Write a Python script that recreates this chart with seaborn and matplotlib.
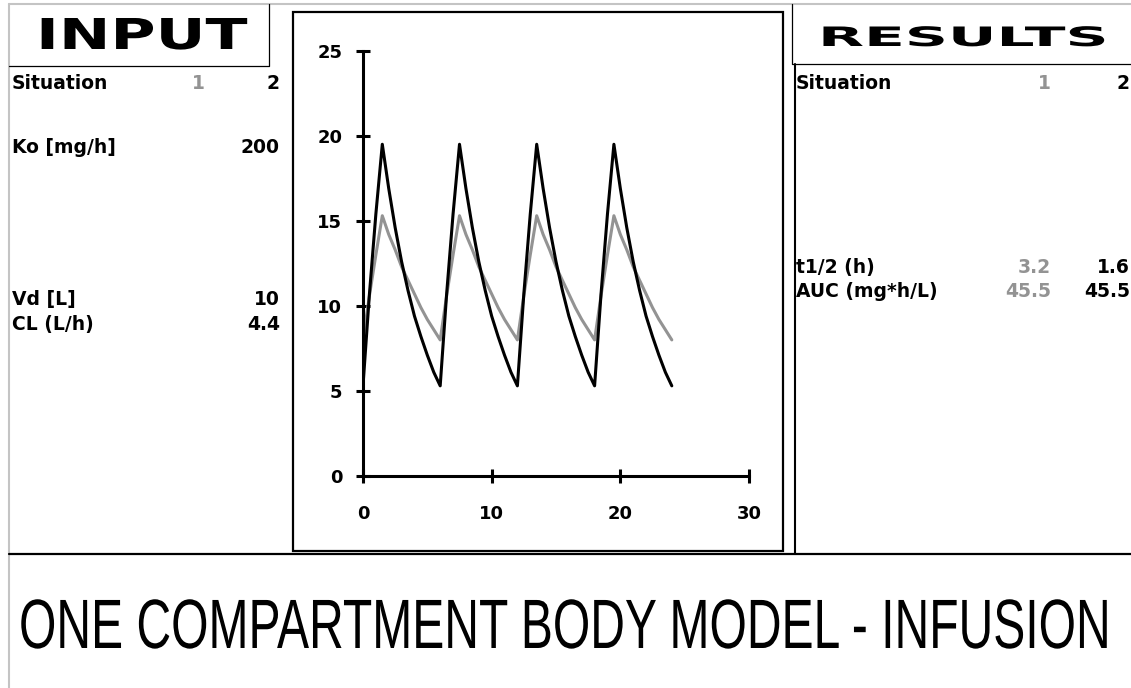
import matplotlib
matplotlib.use('Agg')
import matplotlib.pyplot as plt
import matplotlib.patches as mpatches
from matplotlib.patheffects import AbstractPathEffect
from matplotlib.transforms import Affine2D
import seaborn as sns
import pandas as pd

# --- data (concentration in mg/L vs time in h) ---
hours = [0, 0.5, 1, 1.5, 2, 2.5, 3, 3.5, 4, 4.5, 5, 5.5,
         6, 6.5, 7, 7.5, 8, 8.5, 9, 9.5, 10, 10.5, 11, 11.5,
         12, 12.5, 13, 13.5, 14, 14.5, 15, 15.5, 16, 16.5, 17, 17.5,
         18, 18.5, 19, 19.5, 20, 20.5, 21, 21.5, 22, 22.5, 23, 23.5,
         24]

# situation 1 (grey)
conc_sit1 = [8.0, 10.6, 13.0, 15.3, 14.2, 13.3, 12.3, 11.5, 10.7, 9.9, 9.2, 8.6,
             8.0, 10.6, 13.0, 15.3, 14.2, 13.3, 12.3, 11.5, 10.7, 9.9, 9.2, 8.6,
             8.0, 10.6, 13.0, 15.3, 14.2, 13.3, 12.3, 11.5, 10.7, 9.9, 9.2, 8.6,
             8.0, 10.6, 13.0, 15.3, 14.2, 13.3, 12.3, 11.5, 10.7, 9.9, 9.2, 8.6,
             8.0]

# situation 2 (black)
conc_sit2 = [5.3, 10.7, 15.4, 19.5, 16.9, 14.6, 12.6, 10.9, 9.4, 8.2, 7.1, 6.1,
             5.3, 10.7, 15.4, 19.5, 16.9, 14.6, 12.6, 10.9, 9.4, 8.2, 7.1, 6.1,
             5.3, 10.7, 15.4, 19.5, 16.9, 14.6, 12.6, 10.9, 9.4, 8.2, 7.1, 6.1,
             5.3, 10.7, 15.4, 19.5, 16.9, 14.6, 12.6, 10.9, 9.4, 8.2, 7.1, 6.1,
             5.3]

x_ticks = [0, 10, 20, 30]
y_ticks = [0, 5, 10, 15, 20, 25]

input_labels = ['Situation', 'Ko [mg/h]', 'Vd [L]', 'CL (L/h)']
input_sit1 = ['1', '', '', '']
input_sit2 = ['2', '200', '10', '4.4']

result_labels = ['Situation', 't1/2 (h)', 'AUC (mg*h/L)']
result_sit1 = ['1', '3.2', '45.5']
result_sit2 = ['2', '1.6', '45.5']

title = 'ONE COMPARTMENT BODY MODEL - INFUSION'

GREY = '#939393'


class Stretch(AbstractPathEffect):
    """scale the glyph outlines about a fixed point (display px)"""
    def __init__(self, sx, sy, cx, cy):
        super().__init__()
        self.extra = Affine2D().translate(-cx, -cy).scale(sx, sy).translate(cx, cy)

    def draw_path(self, renderer, gc, tpath, affine, rgbFace=None):
        renderer.draw_path(gc, tpath, affine + self.extra, rgbFace)


# long format for seaborn
df = pd.concat([
    pd.DataFrame({'Time': hours, 'Conc': conc_sit1, 'Situation': '1'}),
    pd.DataFrame({'Time': hours, 'Conc': conc_sit2, 'Situation': '2'}),
], ignore_index=True)

sns.set_style('white')
plt.rcParams['font.family'] = ['DejaVu Sans']
plt.rcParams['text.color'] = 'black'

W, H = 1131, 688
fig = plt.figure(figsize=(W / 100, H / 100), dpi=100)
fig.patch.set_facecolor('white')

# overlay in pixel coordinates for the sheet decorations
bg = fig.add_axes([0, 0, 1, 1])
bg.set_xlim(0, W)
bg.set_ylim(H, 0)
bg.axis('off')

bg.plot([9, W], [4, 4], color='#c4c4c4', lw=1.5)
bg.plot([9, 9], [4, H], color='#c4c4c4', lw=1.5)
# INPUT box
bg.plot([269, 269, 9], [4, 66, 66], color='black', lw=0.9)
# RESULTS box
bg.plot([792, 792, W], [4, 64, 64], color='black', lw=0.9)
bg.plot([795, 795], [64, 554], color='black', lw=1.5)
# separator
bg.plot([9, W], [554, 554], color='black', lw=1.6)
# chart frame
bg.add_patch(mpatches.Rectangle((293, 12), 490, 539, fill=False,
                                edgecolor='black', lw=1.6))

fig.canvas.draw()


def stretched_text(x, base, s, fontsize, target_w, cap_px, cap_ratio, **kw):
    # text centred on x, sitting on baseline `base`, scaled to a given
    # width and cap height
    t = bg.text(x, base, s, fontsize=fontsize, ha='center', va='baseline', **kw)
    w = t.get_window_extent(renderer=fig.canvas.get_renderer()).width
    cap0 = cap_ratio * fontsize * 100 / 72
    cx, cy = bg.transData.transform((x, base))
    t.set_path_effects([Stretch(target_w / w, cap_px / cap0, cx, cy)])
    return t


stretched_text(142, 49, 'INPUT', 30, 212, 31, 0.729, fontweight='bold')
stretched_text(963, 46, 'RESULTS', 19, 290, 19.5, 0.729, fontweight='bold')
stretched_text(565, 648, title, 34, 1092, 50, 0.716, family=['Liberation Sans'])

fs = 13.5
input_rows = [89, 153, 305, 330]
for lab, v1, v2, yb in zip(input_labels, input_sit1, input_sit2, input_rows):
    bg.text(12, yb, lab, fontsize=fs, fontweight='bold', va='baseline')
    bg.text(205, yb, v1, fontsize=fs, fontweight='bold', color=GREY,
            ha='right', va='baseline')
    bg.text(280, yb, v2, fontsize=fs, fontweight='bold', ha='right', va='baseline')

result_rows = [89, 273, 297]
for lab, v1, v2, yb in zip(result_labels, result_sit1, result_sit2, result_rows):
    bg.text(796, yb, lab, fontsize=fs, fontweight='bold', va='baseline')
    bg.text(1051, yb, v1, fontsize=fs, fontweight='bold', color=GREY,
            ha='right', va='baseline')
    bg.text(1130, yb, v2, fontsize=fs, fontweight='bold', ha='right', va='baseline')

# chart
ax = fig.add_axes([363 / W, 1 - 476 / H, 386 / W, (476 - 50.7) / H])
ax.set_facecolor('none')
sns.lineplot(data=df, x='Time', y='Conc', hue='Situation',
             palette={'1': GREY, '2': 'black'}, linewidth=2.2,
             legend=False, ax=ax)
ax.set_xlim(0, 30)
ax.set_ylim(0, 25)
ax.set_xticks(x_ticks)
ax.set_yticks(y_ticks)
ax.set_xlabel('')
ax.set_ylabel('')
for side in ['top', 'right']:
    ax.spines[side].set_visible(False)
for side in ['left', 'bottom']:
    ax.spines[side].set_linewidth(2.2)
    ax.spines[side].set_color('black')
ax.tick_params(bottom=True, left=True, direction='inout', length=10,
               width=2.2, colors='black')
ax.tick_params(axis='y', pad=10)
ax.tick_params(axis='x', pad=16)
for lbl in ax.get_xticklabels() + ax.get_yticklabels():
    lbl.set_fontweight('bold')
    lbl.set_fontsize(13)

fig.savefig('out.png', dpi=100)
